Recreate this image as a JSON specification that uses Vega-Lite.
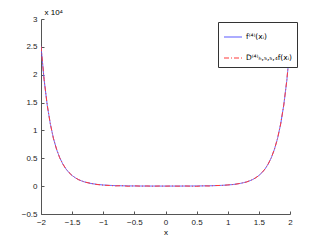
{
  "$schema": "https://vega.github.io/schema/vega-lite/v6.json",
  "width": 249,
  "height": 195,
  "autosize": "none",
  "padding": {"left": 41, "top": 19, "right": 31, "bottom": 28},
  "background": "white",
  "config": {
    "view": {"stroke": null},
    "font": "Liberation Sans",
    "axis": {
      "grid": false,
      "domainColor": "#555555",
      "tickColor": "#555555",
      "labelColor": "#222222",
      "labelFontSize": 8,
      "labelFont": "Liberation Sans",
      "tickSize": -3,
      "domainWidth": 1,
      "tickWidth": 1
    }
  },
  "datasets": {
    "pts": [
      {"x": -2.0, "f": 25115, "d": 25080},
      {"x": -1.95, "f": 19094, "d": 19120},
      {"x": -1.9, "f": 14557, "d": 14540},
      {"x": -1.85, "f": 11146, "d": 11170},
      {"x": -1.8, "f": 8566, "d": 8550},
      {"x": -1.75, "f": 6608, "d": 6630},
      {"x": -1.7, "f": 5116, "d": 5100},
      {"x": -1.65, "f": 3976, "d": 3990},
      {"x": -1.6, "f": 3101, "d": 3090},
      {"x": -1.55, "f": 2428, "d": 2440},
      {"x": -1.5, "f": 1907, "d": 1895},
      {"x": -1.45, "f": 1504, "d": 1515},
      {"x": -1.4, "f": 1190, "d": 1175},
      {"x": -1.35, "f": 944, "d": 960},
      {"x": -1.3, "f": 752, "d": 740},
      {"x": -1.2, "f": 482, "d": 500},
      {"x": -1.1, "f": 314, "d": 290},
      {"x": -1.0, "f": 207, "d": 180},
      {"x": -0.9, "f": 138, "d": 120},
      {"x": -0.8, "f": 93, "d": 40},
      {"x": -0.7, "f": 64, "d": 90},
      {"x": -0.6, "f": 45, "d": -20},
      {"x": -0.5, "f": 32, "d": 50},
      {"x": -0.4, "f": 24, "d": 0},
      {"x": -0.3, "f": 18, "d": 30},
      {"x": -0.2, "f": 15, "d": -10},
      {"x": -0.1, "f": 13, "d": 25},
      {"x": 0.0, "f": 12, "d": 0},
      {"x": 0.1, "f": 13, "d": 30},
      {"x": 0.2, "f": 15, "d": -5},
      {"x": 0.3, "f": 18, "d": 35},
      {"x": 0.4, "f": 24, "d": 0},
      {"x": 0.5, "f": 32, "d": -30},
      {"x": 0.6, "f": 45, "d": 60},
      {"x": 0.7, "f": 64, "d": 20},
      {"x": 0.8, "f": 93, "d": 110},
      {"x": 0.9, "f": 138, "d": 120},
      {"x": 1.0, "f": 207, "d": 220},
      {"x": 1.1, "f": 314, "d": 300},
      {"x": 1.2, "f": 482, "d": 500},
      {"x": 1.3, "f": 752, "d": 735},
      {"x": 1.35, "f": 944, "d": 960},
      {"x": 1.4, "f": 1190, "d": 1180},
      {"x": 1.45, "f": 1504, "d": 1515},
      {"x": 1.5, "f": 1907, "d": 1900},
      {"x": 1.55, "f": 2428, "d": 2440},
      {"x": 1.6, "f": 3101, "d": 3090},
      {"x": 1.65, "f": 3976, "d": 3990},
      {"x": 1.7, "f": 5116, "d": 5100},
      {"x": 1.75, "f": 6608, "d": 6625},
      {"x": 1.8, "f": 8566, "d": 8550},
      {"x": 1.85, "f": 11146, "d": 11170},
      {"x": 1.9, "f": 14557, "d": 14540},
      {"x": 1.95, "f": 19094, "d": 19110},
      {"x": 2.0, "f": 25115, "d": 25400}
    ]
  },
  "data": {"name": "pts"},
  "transform": [
    {"fold": ["f", "d"], "as": ["key", "y"]},
    {"calculate": "datum.key === 'f' ? 'f⁽⁴⁾(xᵢ)' : 'D⁽⁴⁾ₕ,₅,₅,₄f(xᵢ)'", "as": "series"}
  ],
  "mark": {"type": "line", "strokeWidth": 1, "clip": true},
  "encoding": {
    "x": {
      "field": "x",
      "type": "quantitative",
      "scale": {"domain": [-2, 2], "nice": false, "zero": false},
      "axis": {
        "values": [-2, -1.5, -1, -0.5, 0, 0.5, 1, 1.5, 2],
        "labelExpr": "format(datum.value, '~g')",
        "title": "x",
        "titleFontSize": 8,
        "titleFontWeight": "normal",
        "titlePadding": 2,
        "labelPadding": 7,
        "labelFlush": false
      }
    },
    "y": {
      "field": "y",
      "type": "quantitative",
      "scale": {"domain": [-5000, 30000], "nice": false, "zero": false},
      "axis": {
        "values": [-5000, 0, 5000, 10000, 15000, 20000, 25000, 30000],
        "labelExpr": "format(datum.value / 10000, '~g')",
        "labelPadding": 7,
        "title": "x 10⁴",
        "titleAngle": 0,
        "titleFontSize": 8,
        "titleFontWeight": "normal",
        "titleX": 3,
        "titleY": -5,
        "titleAlign": "left",
        "titleBaseline": "alphabetic"
      }
    },
    "color": {
      "field": "series",
      "type": "nominal",
      "scale": {
        "domain": ["f⁽⁴⁾(xᵢ)", "D⁽⁴⁾ₕ,₅,₅,₄f(xᵢ)"],
        "range": ["#5a5aff", "#ff3a3a"]
      },
      "legend": {
        "title": null,
        "orient": "none",
        "legendX": 177,
        "legendY": 3,
        "strokeColor": "#333333",
        "fillColor": "white",
        "padding": 5,
        "symbolType": "stroke",
        "symbolSize": 324,
        "symbolStrokeWidth": 1.2,
        "labelFontSize": 7.5,
        "labelFont": "DejaVu Sans",
        "labelOffset": 3,
        "rowPadding": 7
      }
    },
    "strokeDash": {
      "field": "series",
      "type": "nominal",
      "scale": {
        "domain": ["f⁽⁴⁾(xᵢ)", "D⁽⁴⁾ₕ,₅,₅,₄f(xᵢ)"],
        "range": [[1, 0], [5, 2, 1, 2]]
      },
      "legend": null
    },
    "order": {"field": "key", "sort": "ascending"}
  }
}
